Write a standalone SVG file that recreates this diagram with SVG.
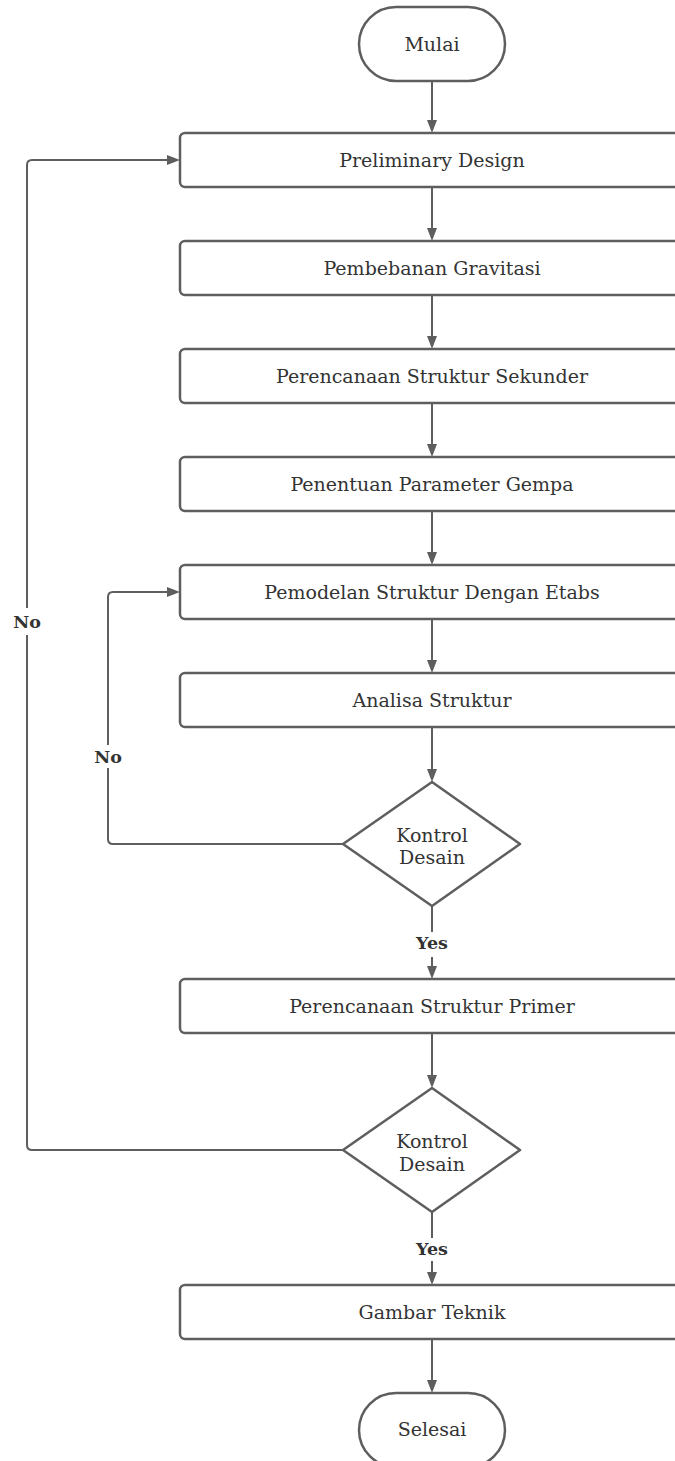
<svg xmlns="http://www.w3.org/2000/svg" width="675" height="1461" viewBox="0 0 675 1461">
<style>
.shape{fill:#ffffff;stroke:#5e5e5e;stroke-width:2.5}
.conn{fill:none;stroke:#5e5e5e;stroke-width:2}
.t{font-family:"DejaVu Serif","Liberation Serif",serif;font-size:19px;fill:#333333;text-anchor:middle}
.lbl{font-family:"DejaVu Serif","Liberation Serif",serif;font-size:17.5px;font-weight:bold;fill:#333333;text-anchor:middle}
</style>
<defs>
<marker id="arr" markerUnits="userSpaceOnUse" markerWidth="14" markerHeight="11" refX="5" refY="5" orient="auto">
<path d="M0,0 L13,5 L0,10 Z" fill="#5e5e5e"/>
</marker>
</defs>
<rect width="675" height="1461" fill="#ffffff"/>
<g id="connectors">
<path class="conn" d="M432,81 V125" marker-end="url(#arr)"/>
<path class="conn" d="M432,187 V233" marker-end="url(#arr)"/>
<path class="conn" d="M432,295 V341" marker-end="url(#arr)"/>
<path class="conn" d="M432,403 V449" marker-end="url(#arr)"/>
<path class="conn" d="M432,511 V557" marker-end="url(#arr)"/>
<path class="conn" d="M432,619 V665" marker-end="url(#arr)"/>
<path class="conn" d="M432,727 V774" marker-end="url(#arr)"/>
<path class="conn" d="M432,906 V932 M432,957 V971" marker-end="url(#arr)"/>
<path class="conn" d="M432,1033 V1080" marker-end="url(#arr)"/>
<path class="conn" d="M432,1212 V1238 M432,1261 V1277" marker-end="url(#arr)"/>
<path class="conn" d="M432,1339 V1385" marker-end="url(#arr)"/>
<path class="conn" d="M343,844 H113 Q108,844 108,839 V768 M108,745 V597 Q108,592 113,592 H172" marker-end="url(#arr)"/>
<path class="conn" d="M343,1150 H32 Q27,1150 27,1145 V635 M27,608 V165 Q27,160 32,160 H172" marker-end="url(#arr)"/>
<text class="lbl" x="432" y="949">Yes</text>
<text class="lbl" x="432" y="1255">Yes</text>
<text class="lbl" x="108" y="763">No</text>
<text class="lbl" x="27" y="628">No</text>
</g>
<g id="mulai">
<rect class="shape" x="359" y="7" width="146" height="74" rx="37"/>
<text class="t" x="432" y="51">Mulai</text>
</g>
<g id="preliminary">
<rect class="shape" x="180" y="133" width="504" height="54" rx="5"/>
<text class="t" x="432" y="166.5">Preliminary Design</text>
</g>
<g id="pembebanan">
<rect class="shape" x="180" y="241" width="504" height="54" rx="5"/>
<text class="t" x="432" y="274.5">Pembebanan Gravitasi</text>
</g>
<g id="sekunder">
<rect class="shape" x="180" y="349" width="504" height="54" rx="5"/>
<text class="t" x="432" y="382.5">Perencanaan Struktur Sekunder</text>
</g>
<g id="gempa">
<rect class="shape" x="180" y="457" width="504" height="54" rx="5"/>
<text class="t" x="432" y="490.5">Penentuan Parameter Gempa</text>
</g>
<g id="pemodelan">
<rect class="shape" x="180" y="565" width="504" height="54" rx="5"/>
<text class="t" x="432" y="598.5">Pemodelan Struktur Dengan Etabs</text>
</g>
<g id="analisa">
<rect class="shape" x="180" y="673" width="504" height="54" rx="5"/>
<text class="t" x="432" y="706.5">Analisa Struktur</text>
</g>
<g id="kontrol1">
<path class="shape" d="M432,782 L520,844 L432,906 L343,844 Z" stroke-linejoin="round"/>
<text class="t" x="432" y="842">Kontrol</text>
<text class="t" x="432" y="864">Desain</text>
</g>
<g id="primer">
<rect class="shape" x="180" y="979" width="504" height="54" rx="5"/>
<text class="t" x="432" y="1012.5">Perencanaan Struktur Primer</text>
</g>
<g id="kontrol2">
<path class="shape" d="M432,1088 L520,1150 L432,1212 L343,1150 Z" stroke-linejoin="round"/>
<text class="t" x="432" y="1148">Kontrol</text>
<text class="t" x="432" y="1170.5">Desain</text>
</g>
<g id="gambar">
<rect class="shape" x="180" y="1285" width="504" height="54" rx="5"/>
<text class="t" x="432" y="1318.5">Gambar Teknik</text>
</g>
<g id="selesai">
<rect class="shape" x="359" y="1393" width="146" height="74" rx="37"/>
<text class="t" x="432" y="1436">Selesai</text>
</g>
</svg>
